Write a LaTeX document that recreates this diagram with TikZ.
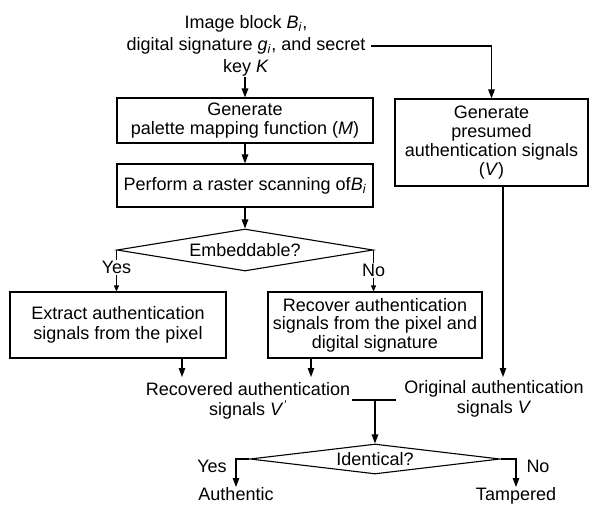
\documentclass[tikz,border=0pt]{standalone}
\usepackage{fontspec}
\setmainfont{Liberation Sans}
\usetikzlibrary{shapes.geometric,arrows.meta}
\newcommand{\txt}{\fontsize{18}{19.5}\selectfont}
\begin{document}
\begin{tikzpicture}[x=1pt,y=-1pt,line width=1.1pt,
  >={Triangle[length=9pt,width=6.5pt]},
  box/.style={draw,rectangle,inner sep=0pt,align=center,font=\txt},
  lbl/.style={inner sep=0pt,align=center,font=\txt},
  dia/.style={draw,diamond,inner sep=0pt,font=\txt},
  yn/.style={fill=white,inner sep=1pt,font=\txt}]
\useasboundingbox (0,0) rectangle (589,504);
% nodes
\node[lbl,font=\fontsize{18}{22}\selectfont] (top) at (246,46)
  {Image block \textit{B}\textsubscript{\textit{i}},\\digital signature \textit{g}\textsubscript{\textit{i}}, and secret\\key \textit{K}};
\node[box,minimum width=256pt,minimum height=45pt] (b1) at (245,120.5)
  {Generate\\palette mapping function (\textit{M})};
\node[box,minimum width=256pt,minimum height=43pt] (b2) at (245,185.5)
  {Perform a raster scanning of\textit{B}\textsubscript{\textit{i}}};
\node[dia,shape aspect=6,minimum width=256pt,minimum height=42pt] (d1) at (245,250) {Embeddable?};
\node[box,minimum width=216pt,minimum height=66pt] (b3) at (118,325)
  {Extract authentication\\signals from the pixel};
\node[box,minimum width=214pt,minimum height=66pt,font=\fontsize{18}{18.5}\selectfont] (b4) at (375,325)
  {Recover authentication\\signals from the pixel and\\digital signature};
\node[box,minimum width=193pt,minimum height=87pt,font=\fontsize{18}{19}\selectfont] (b5) at (491.5,142.5)
  {Generate\\presumed\\authentication signals\\(\textit{V})};
\node[lbl] (rec) at (248,401) {Recovered authentication\\signals \textit{V}\textsuperscript{\textit{'}}};
\node[lbl] (orig) at (494,399) {Original authentication\\signals \textit{V}};
\node[dia,shape aspect=8,minimum width=250pt,minimum height=30pt] (d2) at (375,459) {Identical?};
\node[lbl,anchor=north] (auth) at (236,487) {Authentic};
\node[lbl,anchor=north] (tamp) at (516,487) {Tampered};
\node[lbl] (yes2) at (212,466) {Yes};
\node[lbl] (no2) at (538,466) {No};
% connectors
\draw[->] (b1.north |- top.south) -- (b1.north);
\draw[->] ([xshift=5pt]top.east) -| (b5.north);
\draw[->] (b1) -- (b2);
\draw[->] (b2) -- (d1);
\draw[->,>={Triangle[length=6pt,width=5pt]}] (d1.west) -- (d1.west |- b3.north) node[yn,pos=0.42] {Yes};
\draw[->,>={Triangle[length=6pt,width=5pt]}] (d1.east) -- (d1.east |- b4.north) node[yn,pos=0.5] {No};
\coordinate (r1) at (182,377);
\coordinate (r2) at (311,377);
\coordinate (r3) at (503,377);
\draw[->] (r1 |- b3.south) -- (r1);
\draw[->] (r2 |- b4.south) -- (r2);
\draw[->] (r3 |- b5.south) -- (r3);
\coordinate (jl) at (352,400);
\coordinate (jr) at (396,400);
\coordinate (jm) at (375,400);
\draw (jl) -- (jr);
\draw[->] (jm) -- (d2.north);
\draw[->] (d2.west) -| (auth.north);
\draw[->] (d2.east) -| (tamp.north);
\end{tikzpicture}
\end{document}
